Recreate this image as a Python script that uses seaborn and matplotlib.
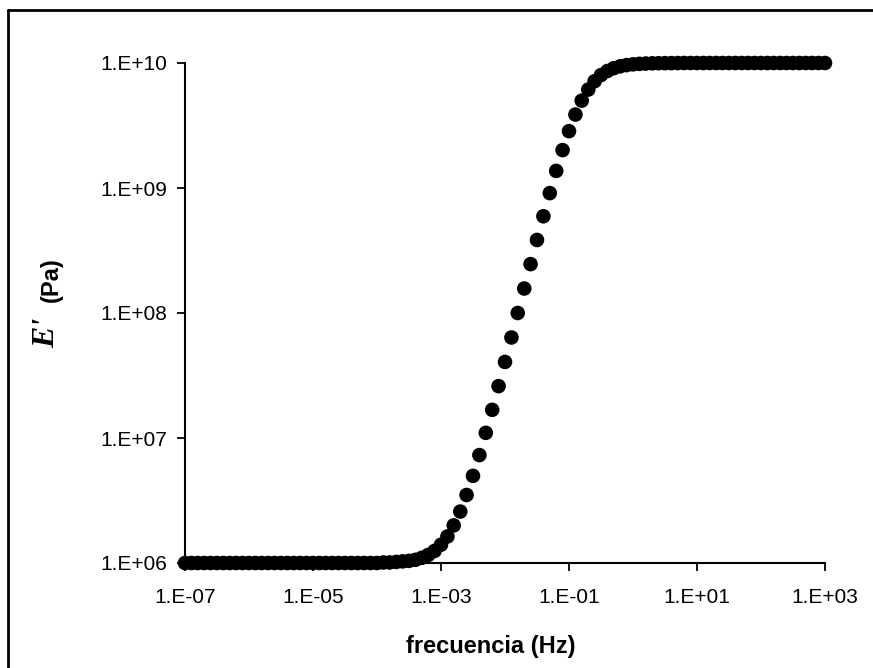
import matplotlib
matplotlib.use("Agg")
from matplotlib import pyplot as plt
from matplotlib.lines import Line2D
from matplotlib.ticker import FixedLocator, FuncFormatter, NullLocator
import seaborn as sns
import pandas as pd


# frecuencia (Hz): 10 puntos por decada, de 1E-07 a 1E+03
FREQ_HZ = [
    1.00e-7, 1.26e-7, 1.58e-7, 2.00e-7, 2.51e-7, 3.16e-7, 3.98e-7, 5.01e-7, 6.31e-7, 7.94e-7,
    1.00e-6, 1.26e-6, 1.58e-6, 2.00e-6, 2.51e-6, 3.16e-6, 3.98e-6, 5.01e-6, 6.31e-6, 7.94e-6,
    1.00e-5, 1.26e-5, 1.58e-5, 2.00e-5, 2.51e-5, 3.16e-5, 3.98e-5, 5.01e-5, 6.31e-5, 7.94e-5,
    1.00e-4, 1.26e-4, 1.58e-4, 2.00e-4, 2.51e-4, 3.16e-4, 3.98e-4, 5.01e-4, 6.31e-4, 7.94e-4,
    1.00e-3, 1.26e-3, 1.58e-3, 2.00e-3, 2.51e-3, 3.16e-3, 3.98e-3, 5.01e-3, 6.31e-3, 7.94e-3,
    1.00e-2, 1.26e-2, 1.58e-2, 2.00e-2, 2.51e-2, 3.16e-2, 3.98e-2, 5.01e-2, 6.31e-2, 7.94e-2,
    1.00e-1, 1.26e-1, 1.58e-1, 2.00e-1, 2.51e-1, 3.16e-1, 3.98e-1, 5.01e-1, 6.31e-1, 7.94e-1,
    1.00e0, 1.26e0, 1.58e0, 2.00e0, 2.51e0, 3.16e0, 3.98e0, 5.01e0, 6.31e0, 7.94e0,
    1.00e1, 1.26e1, 1.58e1, 2.00e1, 2.51e1, 3.16e1, 3.98e1, 5.01e1, 6.31e1, 7.94e1,
    1.00e2, 1.26e2, 1.58e2, 2.00e2, 2.51e2, 3.16e2, 3.98e2, 5.01e2, 6.31e2, 7.94e2,
    1.00e3,
]

# E' (Pa)
E_PRIME_PA = [
    1.00e6, 1.00e6, 1.00e6, 1.00e6, 1.00e6, 1.00e6, 1.00e6, 1.00e6, 1.00e6, 1.00e6,
    1.00e6, 1.00e6, 1.00e6, 1.00e6, 1.00e6, 1.00e6, 1.00e6, 1.00e6, 1.00e6, 1.00e6,
    1.00e6, 1.00e6, 1.00e6, 1.00e6, 1.00e6, 1.00e6, 1.00e6, 1.00e6, 1.00e6, 1.00e6,
    1.00e6, 1.01e6, 1.01e6, 1.02e6, 1.03e6, 1.04e6, 1.06e6, 1.10e6, 1.16e6, 1.25e6,
    1.40e6, 1.63e6, 2.00e6, 2.58e6, 3.50e6, 4.98e6, 7.30e6, 1.10e7, 1.68e7, 2.60e7,
    4.06e7, 6.37e7, 1.00e8, 1.57e8, 2.46e8, 3.84e8, 5.94e8, 9.10e8, 1.37e9, 2.01e9,
    2.85e9, 3.87e9, 5.00e9, 6.13e9, 7.15e9, 8.00e9, 8.63e9, 9.09e9, 9.41e9, 9.62e9,
    9.76e9, 9.84e9, 9.90e9, 9.94e9, 9.96e9, 9.97e9, 9.98e9, 9.99e9, 1.00e10, 1.00e10,
    1.00e10, 1.00e10, 1.00e10, 1.00e10, 1.00e10, 1.00e10, 1.00e10, 1.00e10, 1.00e10, 1.00e10,
    1.00e10, 1.00e10, 1.00e10, 1.00e10, 1.00e10, 1.00e10, 1.00e10, 1.00e10, 1.00e10, 1.00e10,
    1.00e10,
]

X_TICKS = [1e-7, 1e-5, 1e-3, 1e-1, 1e1, 1e3]
Y_TICKS = [1e6, 1e7, 1e8, 1e9, 1e10]


def excel_label(value, _pos):
    # formato tipo Excel: 1.E+06, 1.E-03 ...
    exp = int(f"{value:.0e}".split("e")[1])
    return f"1.E{exp:+03d}"


if __name__ == "__main__":
    sns.set_style("white")
    plt.rcParams["font.family"] = ["Liberation Sans", "DejaVu Sans"]

    W, H = 873, 668
    fig = plt.figure(figsize=(W / 100, H / 100), dpi=100)
    ax = fig.add_axes([185 / W, 1 - 563 / H, (825 - 185) / W, (563 - 63) / H])

    df = pd.DataFrame({"freq": FREQ_HZ, "E": E_PRIME_PA})
    sns.scatterplot(
        data=df, x="freq", y="E", ax=ax,
        color="black", s=110, linewidth=0, edgecolor="none", clip_on=False, zorder=3,
    )

    ax.set_xscale("log")
    ax.set_yscale("log")
    ax.set_xlim(1e-7, 1e3)
    ax.set_ylim(1e6, 1e10)

    ax.xaxis.set_major_locator(FixedLocator(X_TICKS))
    ax.yaxis.set_major_locator(FixedLocator(Y_TICKS))
    ax.xaxis.set_minor_locator(NullLocator())
    ax.yaxis.set_minor_locator(NullLocator())
    ax.xaxis.set_major_formatter(FuncFormatter(excel_label))
    ax.yaxis.set_major_formatter(FuncFormatter(excel_label))

    ax.tick_params(axis="both", which="major", bottom=True, left=True,
                   direction="out", length=6, width=1.3, color="black",
                   labelsize=15, labelcolor="black")
    ax.tick_params(axis="x", pad=12)
    ax.tick_params(axis="y", pad=7)

    for side in ("top", "right"):
        ax.spines[side].set_visible(False)
    for side in ("left", "bottom"):
        ax.spines[side].set_color("black")
        ax.spines[side].set_linewidth(1.5)

    ax.set_xlabel("")
    ax.set_ylabel("")

    fig.text(491 / W, 1 - 647 / H, "frecuencia (Hz)", ha="center", va="center",
             fontsize=17, fontweight="bold", color="black")
    fig.text(47 / W, 1 - 333 / H, "E'", ha="center", va="center", rotation=90,
             fontsize=23, fontweight="bold", fontstyle="italic", color="black",
             family=["Liberation Serif", "DejaVu Serif"])
    fig.text(51 / W, 1 - 280 / H, "(Pa)", ha="center", va="center", rotation=90,
             fontsize=17, fontweight="bold", color="black")

    # marco exterior (solo arriba e izquierda visibles en el recorte)
    fig.add_artist(Line2D([8 / W, 1.0], [1 - 10 / H, 1 - 10 / H],
                          transform=fig.transFigure, color="black", linewidth=2))
    fig.add_artist(Line2D([8 / W, 8 / W], [0.0, 1 - 10 / H],
                          transform=fig.transFigure, color="black", linewidth=2))

    fig.savefig("out.png", dpi=100)
